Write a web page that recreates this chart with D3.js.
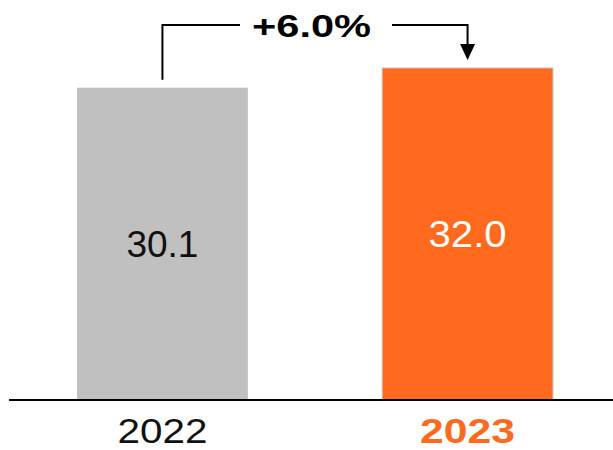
<!DOCTYPE html>
<html lang="en">

<head>
  <meta charset="UTF-8">
  <meta name="viewport" content="width=device-width, initial-scale=1.0">
  <title>Document</title>
  <script src="https://cdn.jsdelivr.net/npm/d3@7.6.1/dist/d3.min.js"></script>
  <style>
    body { margin: 0; background: #fff; }
    svg { display: block; }
    text { font-family: Helvetica, Arial, "Liberation Sans", sans-serif; }
  </style>
</head>

<body>
  <div id="box"></div>
  <script>
    const width = 613
    const height = 450
    const years = ['2022', '2023']
    const values = [30.1, 32.0]
    const colors = ['#c0c0c0', '#ff6a1e']
    const labelColors = ['#111', '#fff']
    const yearColors = ['#111', '#ff6a1e']
    const growthLabel = '+6.0%'

    const svg = d3.select('#box').append('svg')
      .attr('width', width)
      .attr('height', height)

    // scales
    const xScale = d3.scaleBand().domain(years).range([77, 553]).paddingInner(0.44).paddingOuter(0)
    const yScale = d3.scaleLinear().domain([0, 31.9]).range([400, 69])
    const cx = d => xScale(d) + xScale.bandwidth() / 2

    // bars
    svg.selectAll('rect.bar').data(years).enter().append('rect')
      .attr('class', 'bar')
      .attr('x', d => xScale(d))
      .attr('y', (d, i) => yScale(values[i]))
      .attr('width', xScale.bandwidth())
      .attr('height', (d, i) => yScale(0) - yScale(values[i]))
      .attr('fill', (d, i) => colors[i])
      .attr('stroke', (d, i) => i === 1 ? '#c9c9c9' : 'none')
      .attr('stroke-width', 1)

    // value labels in the middle of each bar
    svg.selectAll('text.val').data(years).enter().append('text')
      .attr('class', 'val')
      .attr('x', d => cx(d))
      .attr('y', (d, i) => (yScale(values[i]) + yScale(0)) / 2 + 13)
      .attr('text-anchor', 'middle')
      .attr('font-size', 36)
      .attr('fill', (d, i) => labelColors[i])
      .attr('textLength', (d, i) => i === 0 ? 72 : 78)
      .attr('lengthAdjust', 'spacingAndGlyphs')
      .text((d, i) => values[i].toFixed(1))

    // baseline
    svg.append('line')
      .attr('x1', 9).attr('x2', width)
      .attr('y1', yScale(0)).attr('y2', yScale(0))
      .attr('stroke', '#000').attr('stroke-width', 2)

    // year labels
    svg.selectAll('text.year').data(years).enter().append('text')
      .attr('class', 'year')
      .attr('x', d => cx(d))
      .attr('y', 443)
      .attr('text-anchor', 'middle')
      .attr('font-size', 35)
      .attr('font-weight', (d, i) => i === 1 ? 'bold' : 'normal')
      .attr('fill', (d, i) => yearColors[i])
      .attr('textLength', (d, i) => i === 0 ? 90 : 95)
      .attr('lengthAdjust', 'spacingAndGlyphs')
      .text(d => d)

    /* growth connector */
    const lineY = 25
    const x0 = cx(years[0])
    const x1 = cx(years[1])
    const top1 = yScale(values[1])
    const g = svg.append('g').attr('stroke', '#000').attr('stroke-width', 2).attr('fill', 'none')
    g.append('path').attr('d', `M${x0},${yScale(values[0]) - 8}V${lineY}H240`)
    g.append('path').attr('d', `M392,${lineY}H${x1}V${top1 - 22}`)
    svg.append('path')
      .attr('d', `M${x1 - 7.5},${top1 - 24}L${x1 + 7.5},${top1 - 24}L${x1},${top1 - 8}Z`)
      .attr('fill', '#000')

    svg.append('text')
      .attr('x', 311.5)
      .attr('y', 37)
      .attr('text-anchor', 'middle')
      .attr('font-size', 32)
      .attr('font-weight', 'bold')
      .attr('fill', '#000')
      .attr('textLength', 119)
      .attr('lengthAdjust', 'spacingAndGlyphs')
      .text(growthLabel)
  </script>
</body>

</html>
